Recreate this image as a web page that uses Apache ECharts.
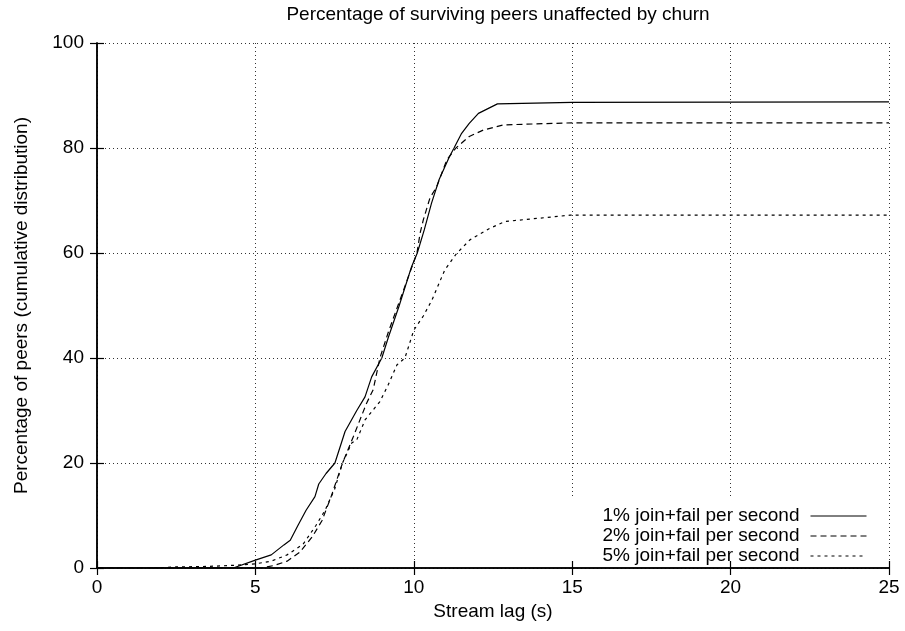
<!DOCTYPE html>
<html>
<head>
<meta charset="utf-8">
<script src="https://cdn.jsdelivr.net/npm/echarts@6/dist/echarts.min.js"></script>
<style>
  html, body { margin: 0; padding: 0; background: #fff; }
  #chart { width: 905px; height: 631px; }
</style>
</head>
<body>
<div id="chart"></div>
<script>
// Stream lag (s) vs. cumulative percentage of peers, per churn rate
const seriesNames = [
  '1% join+fail per second',
  '2% join+fail per second',
  '5% join+fail per second'
];

const lag1 = [0, 4.3, 5.0, 5.5, 5.9, 6.1, 6.35, 6.6, 6.88, 7.0, 7.23, 7.51, 7.83, 8.2, 8.46, 8.67, 8.99, 9.2, 9.53, 9.93, 10.11, 10.33, 10.56, 10.8, 11.12, 11.27, 11.51, 11.75, 12.04, 12.64, 15, 25];
const pct1 = [0, 0, 1.5, 2.5, 4.4, 5.3, 8.2, 11, 13.6, 16, 18, 20, 26, 30, 32.6, 36.4, 40, 44, 49.8, 57.4, 60, 64.4, 69.5, 74, 78.3, 80, 82.8, 84.7, 86.6, 88.4, 88.7, 88.8];

const lag2 = [0, 5.2, 5.6, 6.0, 6.4, 6.8, 7.1, 7.39, 7.75, 8.09, 8.51, 8.72, 8.93, 9.2, 9.5, 9.8, 10.1, 10.2, 10.3, 10.51, 10.72, 11.04, 11.33, 11.75, 12.19, 12.83, 15, 25];
const pct2 = [0, 0, 0.5, 1.3, 3, 6, 9, 13.6, 20, 25, 31.4, 34, 40, 45, 50, 55, 60, 63.8, 66.3, 70.5, 72.6, 77.7, 80, 82.2, 83.4, 84.4, 84.8, 84.8];

const lag5 = [1.8, 2.5, 3.5, 4.3, 5.0, 5.5, 6.0, 6.5, 6.9, 7.2, 7.5, 7.75, 8.04, 8.2, 8.46, 8.93, 9.2, 9.47, 9.72, 10.0, 10.3, 10.57, 10.98, 11.35, 11.77, 12.4, 12.88, 14.93, 25];
const pct5 = [0, 0.2, 0.3, 0.5, 0.8, 1.3, 2.5, 4.5, 8, 11, 15, 20, 23.8, 24.4, 28.2, 31.7, 35, 38.7, 40, 45.3, 48, 51, 56.8, 59.9, 62.5, 64.7, 66, 67.2, 67.2];

const xTicks = { min: 0, max: 25, interval: 5 };
const yTicks = { min: 0, max: 100, interval: 20 };

const FONT = '"Liberation Sans", Arial, Helvetica, sans-serif';
const FS = 19;

function pairs(xs, ys) {
  return xs.map((x, i) => [x, ys[i]]);
}

const gridLine = { show: true, lineStyle: { color: '#333', width: 1, type: [1, 3] } };
const frameLine = { show: true, lineStyle: { color: '#000', width: 1.5 } };
const innerTick = { show: true, inside: true, length: 7, lineStyle: { color: '#000', width: 1.2 } };

const chart = echarts.init(document.getElementById('chart'), null, { renderer: 'canvas' });

chart.setOption({
  animation: false,
  backgroundColor: '#fff',
  textStyle: { fontFamily: FONT, color: '#000' },
  title: {
    text: 'Percentage of surviving peers unaffected by churn',
    left: 493,
    textAlign: 'center',
    top: 0,
    textStyle: { fontFamily: FONT, fontSize: FS, fontWeight: 'normal', color: '#000' }
  },
  grid: { left: 97, right: 16, top: 43, bottom: 63 },
  legend: {
    orient: 'vertical',
    align: 'right',
    right: 30,
    top: 496,
    padding: [10, 8, 0, 40],
    itemGap: 0,
    itemWidth: 56,
    itemHeight: 20,
    backgroundColor: '#fff',
    z: 4,
    data: seriesNames,
    itemStyle: { opacity: 0, borderWidth: 0 },
    lineStyle: { width: 1 },
    textStyle: { fontFamily: FONT, fontSize: FS, color: '#000', lineHeight: 20, padding: [0, 6, 0, 0] }
  },
  xAxis: [
    {
      type: 'value', position: 'bottom', ...xTicks, z: 5,
      name: 'Stream lag (s)', nameLocation: 'middle', nameGap: 33,
      nameTextStyle: { fontFamily: FONT, fontSize: FS, color: '#000' },
      axisLine: frameLine, axisTick: innerTick,
      axisLabel: { fontFamily: FONT, fontSize: FS, color: '#000', margin: 10 },
      splitLine: { show: false }
    },
    {
      type: 'value', position: 'top', ...xTicks, z: 5,
      axisLine: frameLine, axisTick: innerTick,
      axisLabel: { show: false }, splitLine: { show: false }
    },
    {
      type: 'value', position: 'bottom', ...xTicks, z: 1,
      axisLine: { show: false }, axisTick: { show: false },
      axisLabel: { show: false }, splitLine: gridLine
    }
  ],
  yAxis: [
    {
      type: 'value', position: 'left', ...yTicks, z: 5,
      name: 'Percentage of peers (cumulative distribution)', nameLocation: 'middle', nameGap: 66,
      nameTextStyle: { fontFamily: FONT, fontSize: FS, color: '#000' },
      axisLine: frameLine, axisTick: innerTick,
      axisLabel: { fontFamily: FONT, fontSize: FS, color: '#000', margin: 13 },
      splitLine: gridLine
    },
    {
      type: 'value', position: 'right', ...yTicks, z: 5,
      axisLine: frameLine, axisTick: innerTick,
      axisLabel: { show: false }, splitLine: { show: false }
    }
  ],
  series: [
    {
      name: seriesNames[0], type: 'line', xAxisIndex: 0, yAxisIndex: 0,
      data: pairs(lag1, pct1), symbol: 'none', z: 3,
      lineStyle: { color: '#000', width: 1.2, type: 'solid' }, itemStyle: { color: '#000' }
    },
    {
      name: seriesNames[1], type: 'line', xAxisIndex: 0, yAxisIndex: 0,
      data: pairs(lag2, pct2), symbol: 'none', z: 3,
      lineStyle: { color: '#000', width: 1.2, type: [6, 4] }, itemStyle: { color: '#000' }
    },
    {
      name: seriesNames[2], type: 'line', xAxisIndex: 0, yAxisIndex: 0,
      data: pairs(lag5, pct5), symbol: 'none', z: 3,
      lineStyle: { color: '#000', width: 1.2, type: [3, 4] }, itemStyle: { color: '#000' }
    }
  ]
});
</script>
</body>
</html>
